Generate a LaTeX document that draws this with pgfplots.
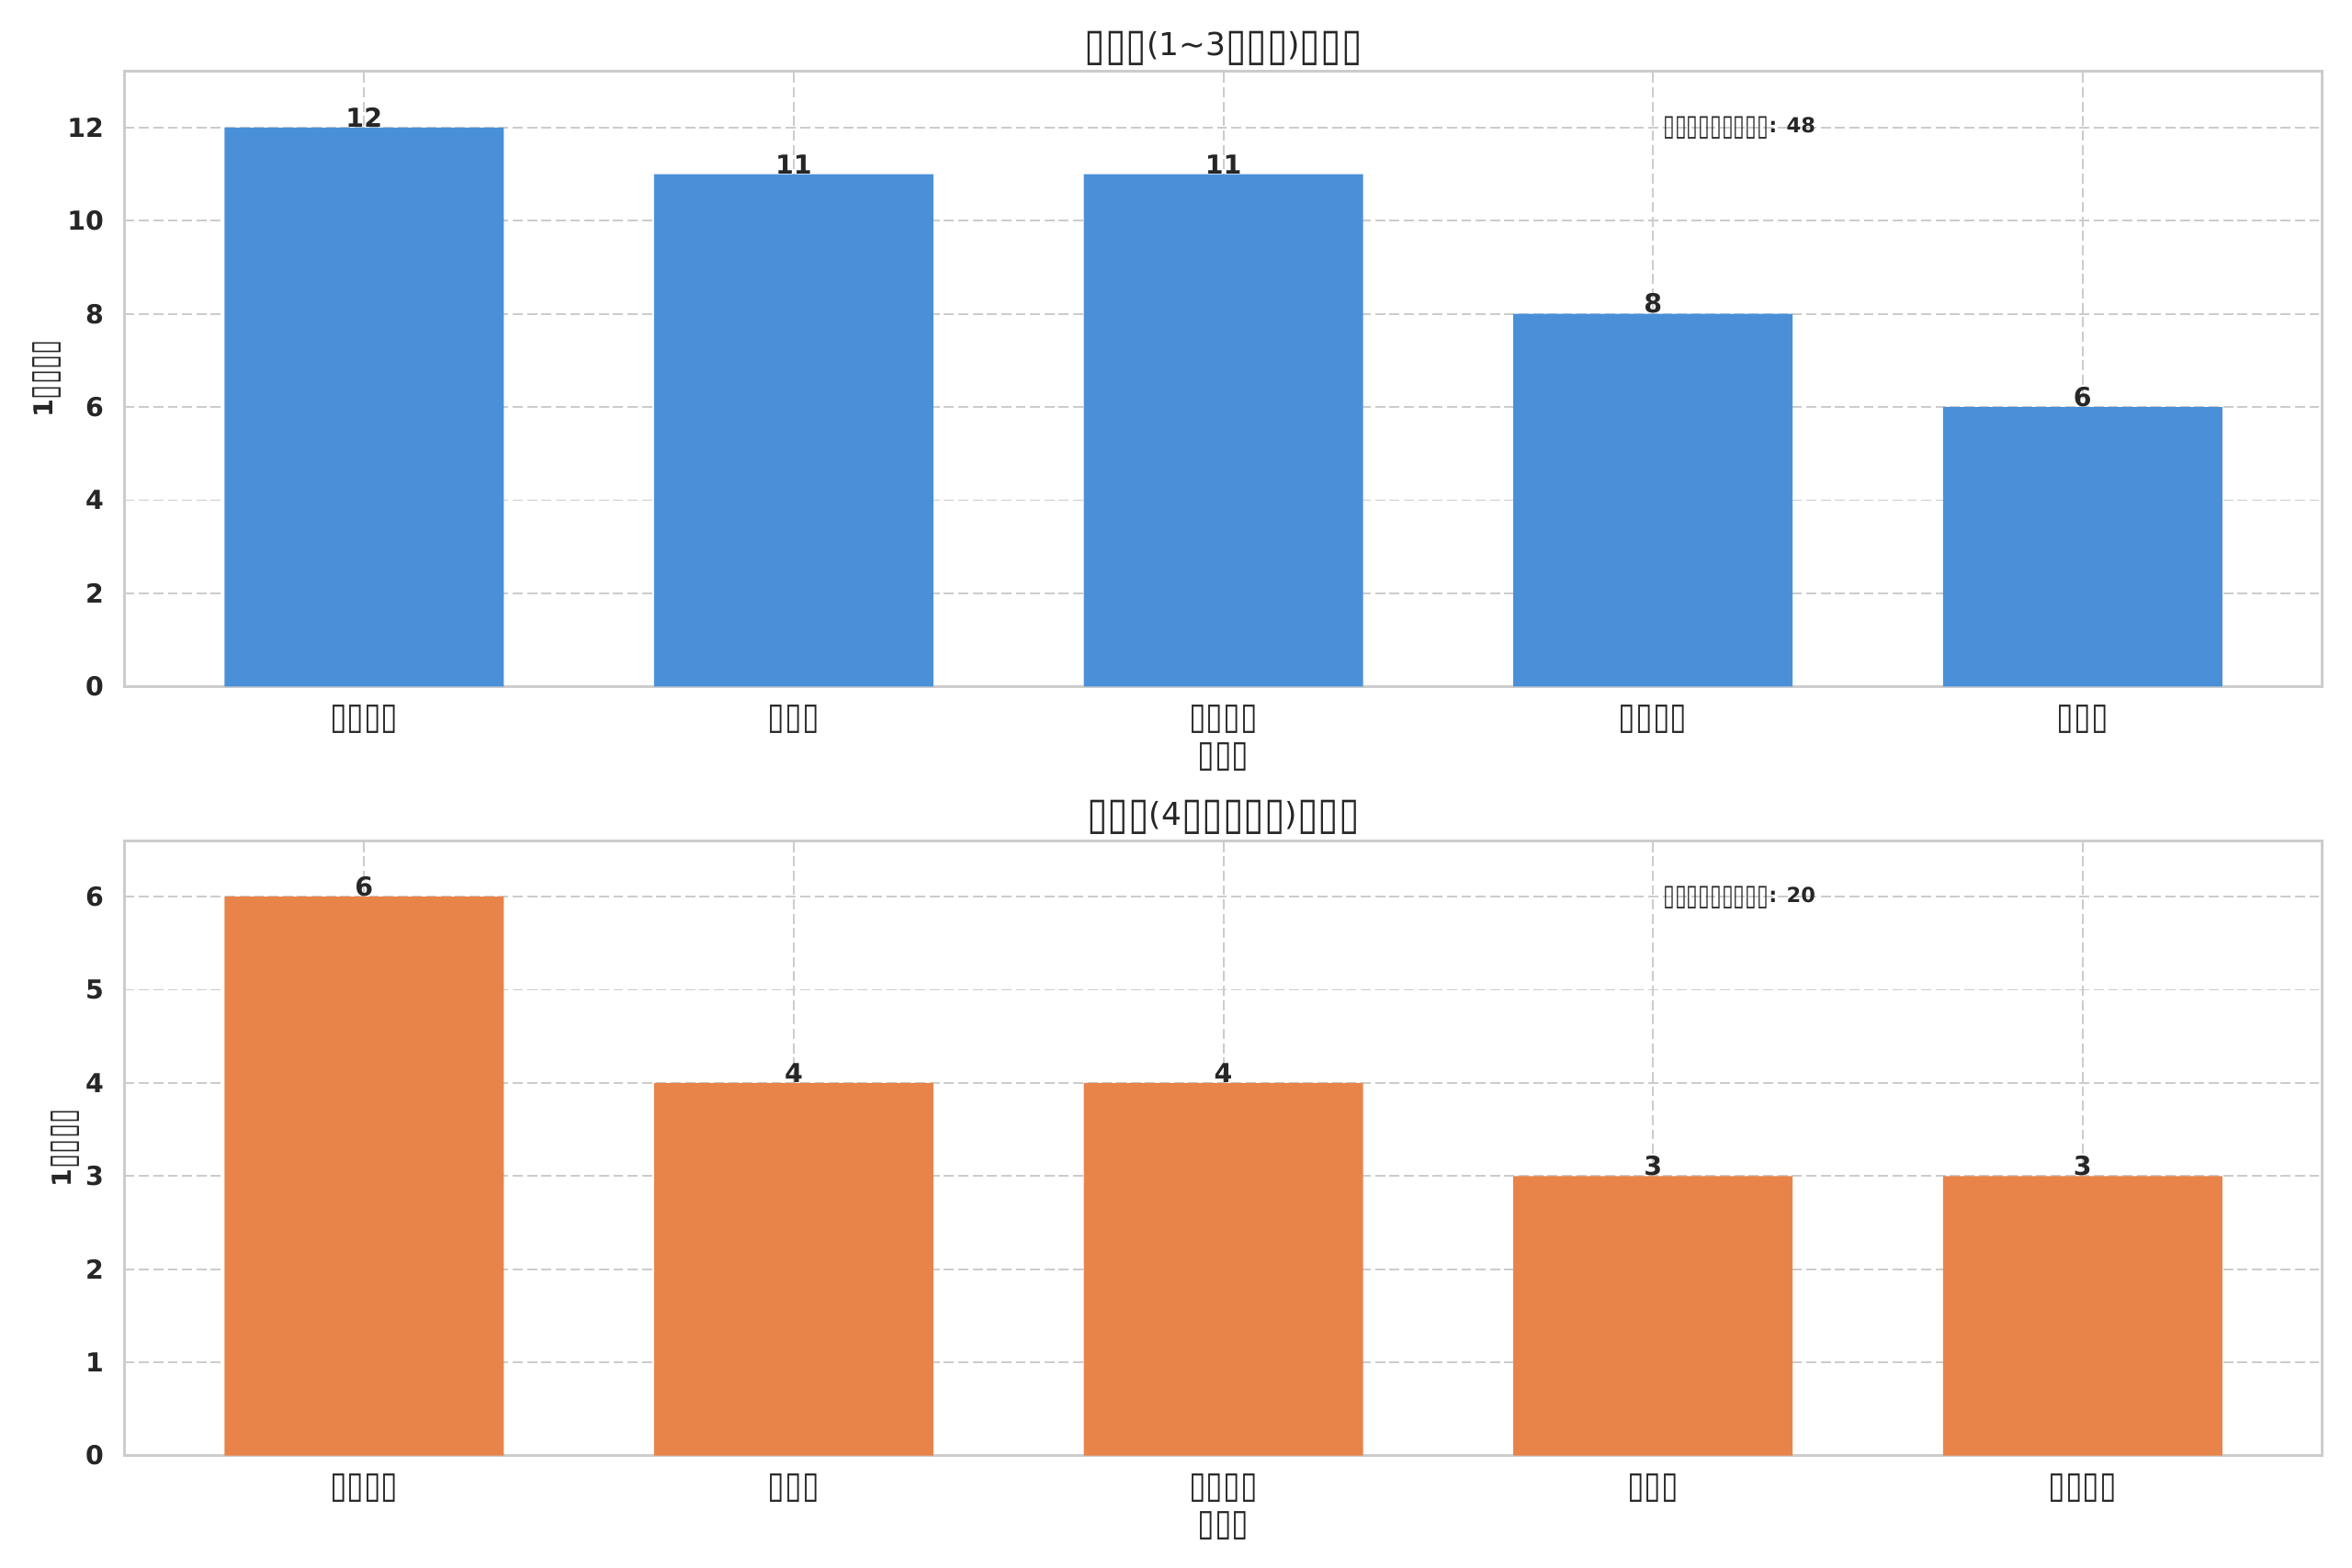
\documentclass[border=0pt]{standalone}
\usepackage{fontspec}
\setmainfont{DejaVu Sans}
\usepackage{graphicx}
\usepackage{pgfplots}
\pgfplotsset{compat=1.18}
\definecolor{gridc}{HTML}{CCCCCC}
\definecolor{txt}{HTML}{262626}
\definecolor{barblue}{HTML}{4A90D9}
\definecolor{barorange}{HTML}{E8844A}
\newcommand\T{\raisebox{-0.13em}{\scalebox{1.19}[1.42]{▯}}}
\newcommand\TB{\raisebox{-0.13em}{\scalebox{1.03}[1.42]{▯}}}
\pgfkeys{/pgf/number format/assume math mode=true}
\pgfplotsset{
  panel/.style={
    scale only axis, width=1009.1pt, height=282.4pt,
    xmin=-0.5575, xmax=4.5575, ymin=0,
    xtick={0,1,2,3,4},
    axis line style={color=gridc, line width=1.25pt},
    grid=major,
    major grid style={color=gridc, line width=0.8pt, dash pattern=on 4.6pt off 2pt},
    major tick length=0pt,
    tick style={draw=none},
    axis on top=false,
    ybar, bar width=0.65,
    ticklabel style={text=txt},
    xticklabel style={font=\fontsize{12}{14}\selectfont, yshift=-4.8pt},
    yticklabel style={font=\bfseries\fontsize{12}{14}\selectfont, xshift=-6pt},
    title style={font=\fontsize{14.5}{17}\selectfont, text=txt, yshift=-6.7pt},
    xlabel style={font=\fontsize{12}{14}\selectfont, text=txt, yshift=2.5pt},
    ylabel style={font=\bfseries\fontsize{12}{14}\selectfont, text=txt},
    ylabel shift=-4pt,
    nodes near coords,
    every node near coord/.append style={font=\bfseries\fontsize{12}{14}\selectfont, text=txt, anchor=south, inner sep=0pt, yshift=0pt},
    clip=false,
  }
}
\begin{document}
\begin{tikzpicture}
\useasboundingbox (0,0) rectangle (1080pt,720pt);
\begin{axis}[panel, at={(57.2pt,404.7pt)}, anchor=south west,
  ymax=13.2, ytick={0,2,4,6,8,10,12},
  xticklabels={\T\T\T\T,\T\T\T,\T\T\T\T,\T\T\T\T,\T\T\T},
  title={\T\T\T(1\textasciitilde3\T\T\T)\T\T\T},
  xlabel={\T\T\T}, ylabel={1\TB\TB\TB\TB}]
\addplot[fill=barblue, draw=none] coordinates {(0,12) (1,11) (2,11) (3,8) (4,6)};
\node[anchor=west, font=\bfseries\fontsize{9.5}{11}\selectfont, text=txt, inner sep=0pt] at (rel axis cs:0.7,0.908) {\TB\TB\TB\TB\TB\TB\TB\TB\TB: 48};
\end{axis}
\begin{axis}[panel, at={(57.2pt,51.5pt)}, anchor=south west,
  ymax=6.6, ytick={0,1,2,3,4,5,6},
  xticklabels={\T\T\T\T,\T\T\T,\T\T\T\T,\T\T\T,\T\T\T\T},
  title={\T\T\T(4\T\T\T\T\T)\T\T\T},
  xlabel={\T\T\T}, ylabel={1\TB\TB\TB\TB}]
\addplot[fill=barorange, draw=none] coordinates {(0,6) (1,4) (2,4) (3,3) (4,3)};
\node[anchor=west, font=\bfseries\fontsize{9.5}{11}\selectfont, text=txt, inner sep=0pt] at (rel axis cs:0.7,0.908) {\TB\TB\TB\TB\TB\TB\TB\TB\TB: 20};
\end{axis}
\end{tikzpicture}
\end{document}
